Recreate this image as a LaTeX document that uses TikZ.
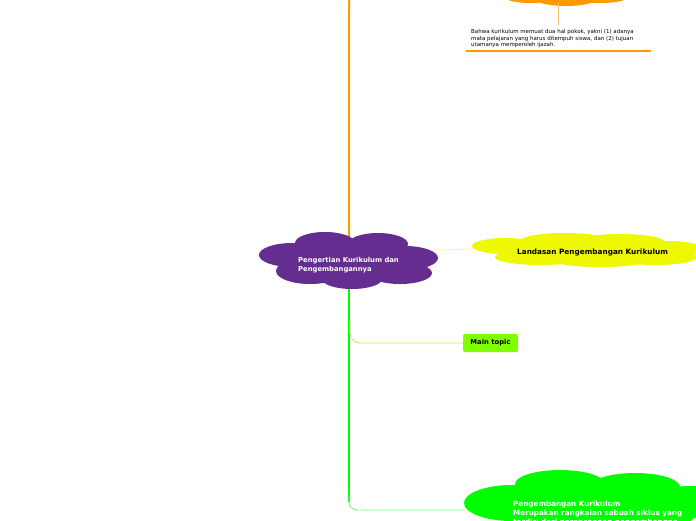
\documentclass[tikz,border=0pt]{standalone}
\usepackage{fontspec}
\setmainfont{DejaVu Sans}
\definecolor{purp}{HTML}{652D90}
\definecolor{yel}{HTML}{EEF800}
\definecolor{org}{HTML}{FF9900}
\definecolor{grn}{HTML}{00FF00}
\definecolor{lgrn}{HTML}{80FF00}
\tikzset{
  cloudtext/.style={font=\fontsize{6.6}{8.5}\selectfont\bfseries, align=left, inner sep=0pt},
  smalltext/.style={font=\fontsize{5.5}{6.8}\selectfont, align=left, inner sep=0pt},
}
\newcommand{\blob}[2]{\foreach \x/\y/\a/\b in {#2} {\fill[#1] (\x,\y) ellipse (\a pt and \b pt);}}
\begin{document}
\begin{tikzpicture}[x=1pt,y=-1pt]
\useasboundingbox (0,0) rectangle (696,520);
\clip (0,0) rectangle (696,520);
% connectors
\coordinate (ctop) at (349,240);
\coordinate (cbot) at (349,285);
\coordinate (otop) at (440,-6);
\draw[org, line width=2pt, rounded corners=8pt] (ctop) |- (otop);
\draw[grn, line width=1.6pt] (cbot) -- (349,502);
\draw[yel!40, line width=1pt] (437,250) -- (473,249);
% orange cloud
\blob{org}{530/-3/25/6, 566/-1/30/7, 600/-3/28/6}
\draw[org!60, line width=0.8pt] (558,3) -- (558,25);
\node[smalltext, anchor=north west] (otext) at (471,29) {Bahwa kurikulum memuat dua hal pokok, yakni (1) adanya\\mata pelajaran yang harus ditempuh siswa, dan (2) tujuan\\utamanya memperoleh ijazah.};
\draw[org, line width=2.5pt] (466,51) -- (651,51);
% center cloud
\blob{purp}{325/243/30/11, 378/244/30/11, 292/255/33/12, 405/258/33/12, 310/271/34/13, 352/279/30/10, 400/273/32/11, 350/262/70/18}
\node[cloudtext, text=white, anchor=west, font=\fontsize{6.8}{8.6}\selectfont\bfseries] (center) at (298,265) {Pengertian Kurikulum dan\\Pengembangannya};
% yellow cloud
\blob{yel}{505/246/33/8, 565/241/45/8, 620/242/45/8, 668/249/35/8, 540/257/45/8, 600/261/45/6, 655/257/42/8, 595/250/95/10}
\node[cloudtext, text=black, anchor=west, font=\fontsize{7.3}{9}\selectfont\bfseries] (land) at (517,252.5) {Landasan Pengembangan Kurikulum};
% main topic
\node[cloudtext, fill=lgrn, rounded corners=2pt, minimum width=55pt, minimum height=18pt, align=center, font=\fontsize{6.8}{8}\selectfont\bfseries] (mt) at (490.5,343) {Main topic};
\draw[lgrn!70, line width=0.7pt, rounded corners=10pt] (350,320) |- (mt.west);
% green cloud
\blob{grn}{560/484/45/14, 635/487/45/14, 595/492/40/10, 512/503/48/18, 690/502/40/16, 600/515/95/20}
\coordinate (gcl) at (465,510);
\draw[grn!55, line width=0.9pt, rounded corners=8pt] (349,495) |- (gcl);
\node[cloudtext, text=white, anchor=north west, font=\fontsize{7.2}{9}\selectfont\bfseries] (gtext) at (513,501) {Pengembangan Kurikulum\\Merupakan rangkaian sebuah siklus yang\\terdiri dari perencanaan pengembangan};
\end{tikzpicture}
\end{document}
